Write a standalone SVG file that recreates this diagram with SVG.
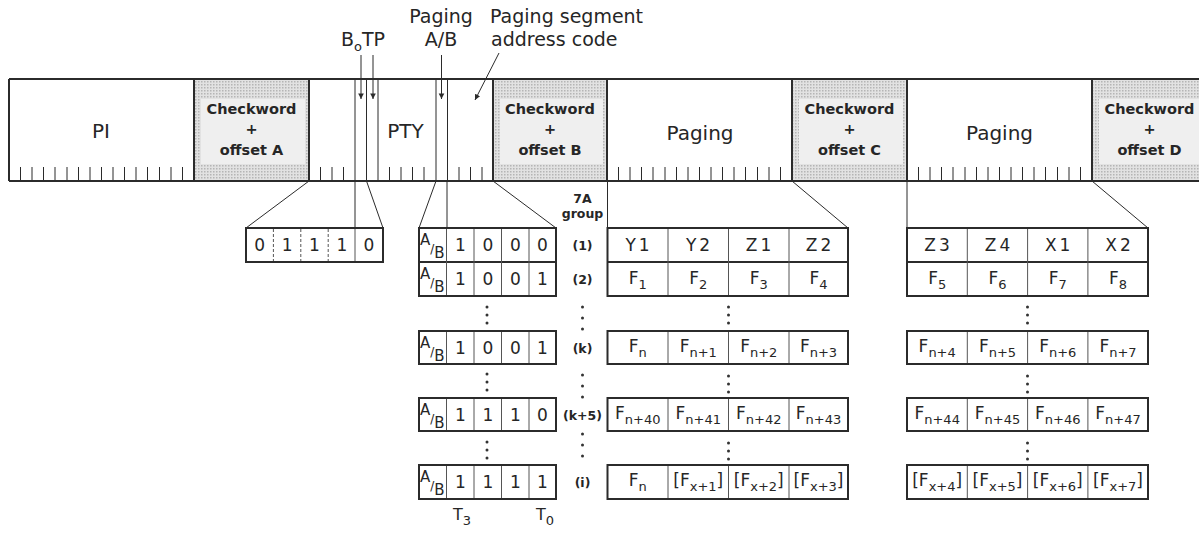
<svg xmlns="http://www.w3.org/2000/svg" width="1199" height="556" viewBox="0 0 1199 556">
<style>
.ln{stroke:#2b2b2b;fill:none}
.w2{stroke-width:2}
.w1{stroke-width:1}
.gl{stroke:#555;stroke-width:1;fill:none}
.dash{stroke:#555;stroke-width:1;stroke-dasharray:3 2;fill:none}
text{font-family:"DejaVu Sans","Liberation Sans",sans-serif;fill:#262626}
.lab{font-size:19px}
.bl{font-size:20px;text-anchor:middle}
.mid{text-anchor:middle}
.ck{font-size:14.5px;font-weight:bold;text-anchor:middle}
.cell{font-size:17px;text-anchor:middle}
.s{font-size:13px}
.sl{font-size:12px}
.grp{font-size:12.5px;font-weight:bold;text-anchor:middle}
.ab{font-size:15px}
.dot{fill:#333}
</style>
<defs>
<pattern id="dots" width="3" height="3" patternUnits="userSpaceOnUse">
<rect width="3" height="3" fill="#e2e2e2"/>
<rect width="1.5" height="1.5" fill="#b5b5b5"/>
</pattern>
<marker id="ar" viewBox="0 0 8 10" refX="8" refY="5" markerWidth="6" markerHeight="7" orient="auto" markerUnits="userSpaceOnUse">
<path d="M0 1L8 5L0 9z" fill="#2b2b2b"/>
</marker>
</defs>
<rect width="1199" height="556" fill="#ffffff"/>

<!-- top labels -->
<g id="labels">
<text class="lab" x="341" y="46">B<tspan class="s" dy="5">o</tspan><tspan dy="-5">TP</tspan></text>
<text class="lab mid" x="441" y="23">Paging</text>
<text class="lab mid" x="441" y="46">A/B</text>
<text class="lab" x="490" y="23">Paging segment</text>
<text class="lab" x="491" y="46">address code</text>
</g>

<!-- the bit stream bar -->
<g id="bar">
<rect x="194" y="79" width="115" height="102" fill="url(#dots)"/>
<rect x="201" y="99" width="104" height="65" fill="#efefef"/>
<rect x="493" y="79" width="114" height="102" fill="url(#dots)"/>
<rect x="500" y="99" width="103" height="65" fill="#efefef"/>
<rect x="792" y="79" width="115" height="102" fill="url(#dots)"/>
<rect x="799" y="99" width="104" height="65" fill="#efefef"/>
<rect x="1092" y="79" width="115" height="102" fill="url(#dots)"/>
<rect x="1099" y="99" width="104" height="65" fill="#efefef"/>
<path class="ln w2" d="M9 79H1199M9 181H1199M9 79V181M194 79V181M309 79V181M493 79V181M607 79V181M792 79V181M907 79V181M1092 79V181"/>
<path class="ln w1" d="M355 79V181M366.5 79V181M378 79V181M436 79V181M447.5 79V181"/>
<path class="ln w1" d="M20.5 167V181M32 167V181M43.5 167V181M55 167V181M67 167V181M78.5 167V181M90 167V181M101.5 167V181M113 167V181M124.5 167V181M136 167V181M147.5 167V181M159.5 167V181M171 167V181M182.5 167V181
M320.5 167V181M332 167V181M343.5 167V181M389.5 167V181M401 167V181M412.5 167V181M424 167V181M459 167V181M470.5 167V181M482 167V181
M618.5 167V181M630 167V181M641.5 167V181M653 167V181M665 167V181M676.5 167V181M688 167V181M699.5 167V181M711 167V181M722.5 167V181M734 167V181M745.5 167V181M757.5 167V181M769 167V181M780.5 167V181
M918.5 167V181M930 167V181M941.5 167V181M953 167V181M965 167V181M976.5 167V181M988 167V181M999.5 167V181M1011 167V181M1022.5 167V181M1034 167V181M1045.5 167V181M1057.5 167V181M1069 167V181M1080.5 167V181"/>
<text class="bl" x="101" y="138">PI</text>
<text class="bl" x="405.5" y="138">PTY</text>
<text class="bl" x="700" y="140">Paging</text>
<text class="bl" x="999.5" y="140">Paging</text>
<text class="ck" x="251.5" y="114">Checkword</text><text class="ck" x="251.5" y="134">+</text><text class="ck" x="251.5" y="155">offset A</text>
<text class="ck" x="550" y="114">Checkword</text><text class="ck" x="550" y="134">+</text><text class="ck" x="550" y="155">offset B</text>
<text class="ck" x="849.5" y="114">Checkword</text><text class="ck" x="849.5" y="134">+</text><text class="ck" x="849.5" y="155">offset C</text>
<text class="ck" x="1149.5" y="114">Checkword</text><text class="ck" x="1149.5" y="134">+</text><text class="ck" x="1149.5" y="155">offset D</text>
</g>

<!-- connectors -->
<g id="connectors" class="ln w1">
<path d="M361 55V99" marker-end="url(#ar)"/>
<path d="M373 55V99" marker-end="url(#ar)"/>
<path d="M441.5 55V99" marker-end="url(#ar)"/>
<path d="M499 53L475 100" marker-end="url(#ar)"/>
<path d="M309 181L246 228M355 181V228M366.5 181L383 228"/>
<path d="M436 181L419 228M447 181V228M493 181L556 228"/>
<path d="M607.5 181V228M792 181L848 228"/>
<path d="M907 181V228M1092 181L1148 228"/>
</g>

<!-- group type table -->
<g id="group-type">
<rect class="ln w2" x="246" y="228" width="137" height="34"/>
<path class="dash" d="M273.4 229V261M300.8 229V261M328.2 229V261"/>
<path class="gl" d="M355 229V261"/>
<text class="cell" x="259.7" y="251">0</text>
<text class="cell" x="287.1" y="251">1</text>
<text class="cell" x="314.5" y="251">1</text>
<text class="cell" x="341.9" y="251">1</text>
<text class="cell" x="369" y="251">0</text>
</g>

<!-- group labels column -->
<g id="group-labels">
<text class="grp" x="582.5" y="203">7A</text>
<text class="grp" x="582.5" y="218">group</text>
<text class="grp" x="582.5" y="250">(1)</text>
<text class="grp" x="582.5" y="284">(2)</text>
<text class="grp" x="582.5" y="353">(k)</text>
<text class="grp" x="582.5" y="420">(k+5)</text>
<text class="grp" x="582.5" y="487">(i)</text>
<circle class="dot" cx="582.5" cy="307" r="1.5"/><circle class="dot" cx="582.5" cy="318" r="1.5"/><circle class="dot" cx="582.5" cy="329" r="1.5"/>
<circle class="dot" cx="582.5" cy="375" r="1.5"/><circle class="dot" cx="582.5" cy="386" r="1.5"/><circle class="dot" cx="582.5" cy="397" r="1.5"/>
<circle class="dot" cx="582.5" cy="434" r="1.5"/><circle class="dot" cx="582.5" cy="445" r="1.5"/><circle class="dot" cx="582.5" cy="456" r="1.5"/>
</g>

<!-- paging A/B + segment address table -->
<g id="segment-table">
<rect class="ln w2" x="419" y="228" width="137" height="68"/>
<path class="ln w2" d="M419 262H556"/>
<rect class="ln w2" x="419" y="331" width="137" height="33"/>
<rect class="ln w2" x="419" y="398" width="137" height="33"/>
<rect class="ln w2" x="419" y="465" width="137" height="34"/>
<path class="gl" d="M446.5 229V295M474 229V295M501.5 229V295M529 229V295M446.5 332V363M474 332V363M501.5 332V363M529 332V363M446.5 399V430M474 399V430M501.5 399V430M529 399V430M446.5 466V498M474 466V498M501.5 466V498M529 466V498"/>
<text class="ab" x="420" y="245">A<tspan class="sl" dy="8">/</tspan><tspan dy="5">B</tspan></text>
<text class="ab" x="420" y="279">A<tspan class="sl" dy="8">/</tspan><tspan dy="5">B</tspan></text>
<text class="ab" x="420" y="348">A<tspan class="sl" dy="8">/</tspan><tspan dy="5">B</tspan></text>
<text class="ab" x="420" y="415">A<tspan class="sl" dy="8">/</tspan><tspan dy="5">B</tspan></text>
<text class="ab" x="420" y="482">A<tspan class="sl" dy="8">/</tspan><tspan dy="5">B</tspan></text>
<text class="cell" x="460.3" y="251">1</text><text class="cell" x="487.8" y="251">0</text><text class="cell" x="515.3" y="251">0</text><text class="cell" x="542.5" y="251">0</text>
<text class="cell" x="460.3" y="285">1</text><text class="cell" x="487.8" y="285">0</text><text class="cell" x="515.3" y="285">0</text><text class="cell" x="542.5" y="285">1</text>
<text class="cell" x="460.3" y="353.5">1</text><text class="cell" x="487.8" y="353.5">0</text><text class="cell" x="515.3" y="353.5">0</text><text class="cell" x="542.5" y="353.5">1</text>
<text class="cell" x="460.3" y="420.5">1</text><text class="cell" x="487.8" y="420.5">1</text><text class="cell" x="515.3" y="420.5">1</text><text class="cell" x="542.5" y="420.5">0</text>
<text class="cell" x="460.3" y="488">1</text><text class="cell" x="487.8" y="488">1</text><text class="cell" x="515.3" y="488">1</text><text class="cell" x="542.5" y="488">1</text>
<circle class="dot" cx="487" cy="307" r="1.5"/><circle class="dot" cx="487" cy="315" r="1.5"/><circle class="dot" cx="487" cy="323" r="1.5"/>
<circle class="dot" cx="487" cy="374" r="1.5"/><circle class="dot" cx="487" cy="382" r="1.5"/><circle class="dot" cx="487" cy="390" r="1.5"/>
<circle class="dot" cx="487" cy="442" r="1.5"/><circle class="dot" cx="487" cy="450" r="1.5"/><circle class="dot" cx="487" cy="458" r="1.5"/>
<text x="453" y="520" font-size="16">T<tspan class="s" dy="5">3</tspan></text>
<text x="536" y="520" font-size="16">T<tspan class="s" dy="5">0</tspan></text>
</g>

<!-- paging block C table -->
<g id="paging-table-1">
<rect class="ln w2" x="607.5" y="228" width="240.5" height="68"/>
<path class="ln w2" d="M607.5 262H848"/>
<rect class="ln w2" x="607.5" y="331" width="240.5" height="33"/>
<rect class="ln w2" x="607.5" y="398" width="240.5" height="33"/>
<rect class="ln w2" x="607.5" y="465" width="240.5" height="34"/>
<path class="gl" d="M668 229V295M728.5 229V295M789 229V295M668 332V363M728.5 332V363M789 332V363M668 399V430M728.5 399V430M789 399V430M668 466V498M728.5 466V498M789 466V498"/>
<text class="cell" x="639" y="251" letter-spacing="3">Y1</text><text class="cell" x="699.5" y="251" letter-spacing="3">Y2</text><text class="cell" x="760" y="251" letter-spacing="3">Z1</text><text class="cell" x="820" y="251" letter-spacing="3">Z2</text>
<text class="cell" x="637.8" y="284">F<tspan class="s" dy="5">1</tspan></text><text class="cell" x="698.3" y="284">F<tspan class="s" dy="5">2</tspan></text><text class="cell" x="758.8" y="284">F<tspan class="s" dy="5">3</tspan></text><text class="cell" x="818.5" y="284">F<tspan class="s" dy="5">4</tspan></text>
<text class="cell" x="637.8" y="352">F<tspan class="s" dy="5">n</tspan></text><text class="cell" x="698.3" y="352">F<tspan class="s" dy="5">n+1</tspan></text><text class="cell" x="758.8" y="352">F<tspan class="s" dy="5">n+2</tspan></text><text class="cell" x="818.5" y="352">F<tspan class="s" dy="5">n+3</tspan></text>
<text class="cell" x="637.8" y="419">F<tspan class="s" dy="5">n+40</tspan></text><text class="cell" x="698.3" y="419">F<tspan class="s" dy="5">n+41</tspan></text><text class="cell" x="758.8" y="419">F<tspan class="s" dy="5">n+42</tspan></text><text class="cell" x="818.5" y="419">F<tspan class="s" dy="5">n+43</tspan></text>
<text class="cell" x="637.8" y="486">F<tspan class="s" dy="5">n</tspan></text><text class="cell" x="698.3" y="486">[F<tspan class="s" dy="5">x+1</tspan><tspan dy="-5">]</tspan></text><text class="cell" x="758.8" y="486">[F<tspan class="s" dy="5">x+2</tspan><tspan dy="-5">]</tspan></text><text class="cell" x="818.5" y="486">[F<tspan class="s" dy="5">x+3</tspan><tspan dy="-5">]</tspan></text>
<circle class="dot" cx="728.5" cy="307" r="1.5"/><circle class="dot" cx="728.5" cy="315" r="1.5"/><circle class="dot" cx="728.5" cy="323" r="1.5"/>
<circle class="dot" cx="728.5" cy="376" r="1.5"/><circle class="dot" cx="728.5" cy="384" r="1.5"/><circle class="dot" cx="728.5" cy="392" r="1.5"/>
<circle class="dot" cx="728.5" cy="443" r="1.5"/><circle class="dot" cx="728.5" cy="451" r="1.5"/><circle class="dot" cx="728.5" cy="459" r="1.5"/>
</g>

<!-- paging block D table -->
<g id="paging-table-2">
<rect class="ln w2" x="907" y="228" width="241" height="68"/>
<path class="ln w2" d="M907 262H1148"/>
<rect class="ln w2" x="907" y="331" width="241" height="33"/>
<rect class="ln w2" x="907" y="398" width="241" height="33"/>
<rect class="ln w2" x="907" y="465" width="241" height="34"/>
<path class="gl" d="M967.3 229V295M1027.6 229V295M1087.9 229V295M967.3 332V363M1027.6 332V363M1087.9 332V363M967.3 399V430M1027.6 399V430M1087.9 399V430M967.3 466V498M1027.6 466V498M1087.9 466V498"/>
<text class="cell" x="938.5" y="251" letter-spacing="3">Z3</text><text class="cell" x="999" y="251" letter-spacing="3">Z4</text><text class="cell" x="1059.2" y="251" letter-spacing="3">X1</text><text class="cell" x="1119.5" y="251" letter-spacing="3">X2</text>
<text class="cell" x="937.2" y="284">F<tspan class="s" dy="5">5</tspan></text><text class="cell" x="997.5" y="284">F<tspan class="s" dy="5">6</tspan></text><text class="cell" x="1057.8" y="284">F<tspan class="s" dy="5">7</tspan></text><text class="cell" x="1118" y="284">F<tspan class="s" dy="5">8</tspan></text>
<text class="cell" x="937.2" y="352">F<tspan class="s" dy="5">n+4</tspan></text><text class="cell" x="997.5" y="352">F<tspan class="s" dy="5">n+5</tspan></text><text class="cell" x="1057.8" y="352">F<tspan class="s" dy="5">n+6</tspan></text><text class="cell" x="1118" y="352">F<tspan class="s" dy="5">n+7</tspan></text>
<text class="cell" x="937.2" y="419">F<tspan class="s" dy="5">n+44</tspan></text><text class="cell" x="997.5" y="419">F<tspan class="s" dy="5">n+45</tspan></text><text class="cell" x="1057.8" y="419">F<tspan class="s" dy="5">n+46</tspan></text><text class="cell" x="1118" y="419">F<tspan class="s" dy="5">n+47</tspan></text>
<text class="cell" x="937.2" y="486">[F<tspan class="s" dy="5">x+4</tspan><tspan dy="-5">]</tspan></text><text class="cell" x="997.5" y="486">[F<tspan class="s" dy="5">x+5</tspan><tspan dy="-5">]</tspan></text><text class="cell" x="1057.8" y="486">[F<tspan class="s" dy="5">x+6</tspan><tspan dy="-5">]</tspan></text><text class="cell" x="1118" y="486">[F<tspan class="s" dy="5">x+7</tspan><tspan dy="-5">]</tspan></text>
<circle class="dot" cx="1027.5" cy="307" r="1.5"/><circle class="dot" cx="1027.5" cy="315" r="1.5"/><circle class="dot" cx="1027.5" cy="323" r="1.5"/>
<circle class="dot" cx="1027.5" cy="376" r="1.5"/><circle class="dot" cx="1027.5" cy="384" r="1.5"/><circle class="dot" cx="1027.5" cy="392" r="1.5"/>
<circle class="dot" cx="1027.5" cy="443" r="1.5"/><circle class="dot" cx="1027.5" cy="451" r="1.5"/><circle class="dot" cx="1027.5" cy="459" r="1.5"/>
</g>
</svg>
